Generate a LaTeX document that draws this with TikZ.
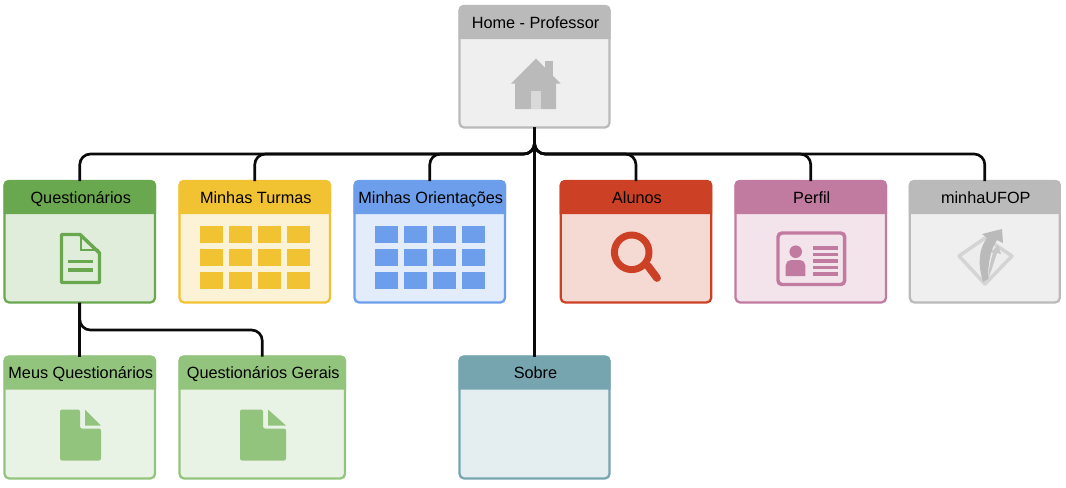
\documentclass[tikz,border=0pt]{standalone}
\usepackage{fontspec}
\usetikzlibrary{calc}
\setmainfont{Liberation Sans}
\definecolor{wireblack}{HTML}{0A0A0A}
\definecolor{grayhead}{HTML}{BABABA}
\definecolor{graybody}{HTML}{EFEFEF}
\definecolor{greenhead}{HTML}{6AA84F}
\definecolor{greenbody}{HTML}{E1EDDB}
\definecolor{yellowhead}{HTML}{F1C232}
\definecolor{yellowbody}{HTML}{FCF3D6}
\definecolor{bluehead}{HTML}{6D9EEB}
\definecolor{bluebody}{HTML}{E2ECFB}
\definecolor{redhead}{HTML}{CC4125}
\definecolor{redbody}{HTML}{F5D9D3}
\definecolor{pinkhead}{HTML}{C27BA0}
\definecolor{pinkbody}{HTML}{F3E4EC}
\definecolor{lgreenhead}{HTML}{93C47D}
\definecolor{lgreenbody}{HTML}{E9F3E5}
\definecolor{tealhead}{HTML}{76A5AF}
\definecolor{tealbody}{HTML}{E4EDEF}
\tikzset{
    wire/.style={draw=wireblack,line width=2pt,rounded corners=8pt},
    panel/.style={draw=#1head,fill=#1body,line width=1.7pt,rounded corners=3.5pt,inner sep=0pt,outer sep=0pt,anchor=north west},
    headtext/.style={font=\fontsize{12.2pt}{14pt}\selectfont,text=black,inner sep=0pt,anchor=base},
}
% #1 name, #2 colour, #3 left, #4 top, #5 width, #6 height, #7 title
\newcommand{\panelbox}[7]{
    \node[panel=#2,minimum width=#5*0.75pt,minimum height=#6*0.75pt] (#1) at (#3,#4) {};
    \fill[#2head] ($(#1.north west)+(-1,33)$) [rounded corners=3.5pt] -- ($(#1.north west)+(-1,-1)$) -- ($(#1.north east)+(1,-1)$) [sharp corners] -- ($(#1.north east)+(1,33)$) -- cycle;
    \node[headtext] (#1title) at ($(#1.north)+(1,22.3)$) {#7};
}
\newcommand{\gridicon}[2]{
    \foreach \i in {0,1,2,3}
        \foreach \j in {0,1,2}
            \fill[#2] ($(#1.north)+(-54.5+29*\i,44.7+23*\j)$) rectangle ++(23,17.5);
}
\newcommand{\soliddoc}[4]{
    \begin{scope}[shift={(#1)}]
        \fill[#2,rounded corners=1.5pt] (-#3,-25) -- (#3-#4,-25) -- (#3-#4,-6) -- (#3,-6) -- (#3,26) -- (-#3,26) -- cycle;
        \fill[#2] (#3-#4+5,-25) -- (#3,-9) -- (#3-#4+5,-9) -- cycle;
    \end{scope}
}
\begin{document}
\begin{tikzpicture}[x=0.75pt,y=-0.75pt]
    \useasboundingbox (0,0) rectangle (1066,487);

    \panelbox{home}{gray}{459.5}{6}{150}{121.5}{Home - Professor}
    \panelbox{quest}{green}{4.5}{181}{150.5}{121.5}{Questionários}
    \panelbox{turmas}{yellow}{179.5}{181}{150.5}{121.5}{Minhas Turmas}
    \panelbox{orient}{blue}{354.5}{181}{150.5}{121.5}{Minhas Orientações}
    \panelbox{alunos}{red}{560.7}{181}{150.5}{121.5}{Alunos}
    \panelbox{perfil}{pink}{735.5}{181}{150.5}{121.5}{Perfil}
    \panelbox{ufop}{gray}{909.8}{181}{150}{121.5}{minhaUFOP}
    \panelbox{meus}{lgreen}{4.5}{356.5}{150.5}{122}{Meus Questionários}
    \panelbox{gerais}{lgreen}{179.5}{356.5}{165.5}{122}{Questionários Gerais}
    \panelbox{sobre}{teal}{459.5}{356.5}{150}{122}{Sobre}

    \draw[wire] (home.south) -- ++(0,26.5) -| (quest.north);
    \draw[wire] (home.south) -- ++(0,26.5) -| (turmas.north);
    \draw[wire] (home.south) -- ++(0,26.5) -| (orient.north);
    \draw[wire] (home.south) -- ++(0,26.5) -| (alunos.north);
    \draw[wire] (home.south) -- ++(0,26.5) -| (perfil.north);
    \draw[wire] (home.south) -- ++(0,26.5) -| (ufop.north);
    \draw[wire] (home.south) -- (sobre.north);
    \draw[wire] (quest.south) -- (meus.north);
    \draw[wire] (quest.south) -- ++(0,27.5) -| (gerais.north);

    % home icon
    \fill[grayhead] (545,61) rectangle (553,80);
    \fill[grayhead] (511,83.5) -- (536,58.5) -- (560.5,83.5) -- (556,83.5) -- (556,109) -- (515,109) -- (515,83.5) -- cycle;
    \fill[black!15] (531,91) rectangle (540.5,109);

    % questionarios icon
    \draw[greenhead,line width=2.6pt,line join=round] (61.5,234.5) -- (80,234.5) -- (99.5,253) -- (99.5,282.5) -- (61.5,282.5) -- cycle;
    \draw[greenhead,line width=2.2pt] (81,235) -- (81,250) -- (99,250);
    \fill[greenhead] (68,259.5) rectangle (93,263);
    \fill[greenhead] (68,268) rectangle (93,271.5);

    \gridicon{turmas}{yellowhead}
    \gridicon{orient}{bluehead}

    % alunos icon
    \draw[redhead,line width=5.2pt] (631.7,252.3) circle (17.3);
    \draw[redhead,line width=5.8pt,line cap=round] (648,266) -- (657,278);

    % perfil icon
    \draw[pinkhead,line width=2.6pt,rounded corners=3pt] (778,233) rectangle (844.7,284.5);
    \fill[pinkhead] (795.7,251.7) circle (6.3);
    \fill[pinkhead] (785.7,276) [rounded corners=4pt] -- (785.7,260) -- (805.3,260) [sharp corners] -- (805.3,276) -- cycle;
    \foreach \y in {246,252.5,259,265.5,272}
        \fill[pinkhead] (813.3,\y) rectangle ++(25,3.5);

    % minhaUFOP icon
    \draw[black!17,fill=black!7,line width=2.6pt,line join=round] (959,256) -- (985,238) -- (1012,256) -- (985,284) -- cycle;
    \fill[black!22] (988,279) .. controls (989,267) and (991,259) .. (993,253) -- (991,252) -- (998,245) -- (1001,254) -- (997,253) .. controls (994,262) and (991,272) .. (988,279) -- cycle;
    \fill[grayhead] (983,282) .. controls (978,265) and (978,250) .. (987,238) -- (982,234) -- (1002,229) -- (1003,243) -- (997,240) .. controls (990,250) and (988,265) .. (988,279) -- cycle;

    \soliddoc{80.5,434.5}{lgreenhead}{20.5}{21}
    \soliddoc{263,434.5}{lgreenhead}{23}{23}
\end{tikzpicture}
\end{document}
